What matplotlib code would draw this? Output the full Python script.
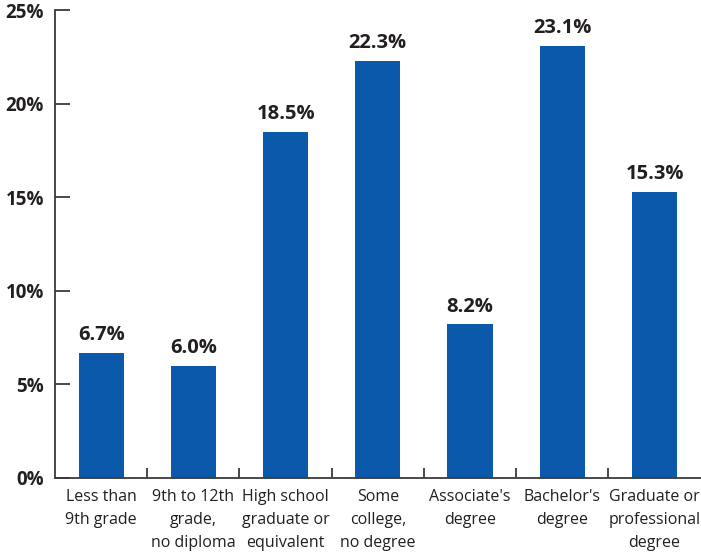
import numpy as np
import matplotlib.pyplot as plt

categories = [
    "Less than\n9th grade",
    "9th to 12th\ngrade,\nno diploma",
    "High school\ngraduate or\nequivalent",
    "Some\ncollege,\nno degree",
    "Associate's\ndegree",
    "Bachelor's\ndegree",
    "Graduate or\nprofessional\ndegree",
]
values = [6.7, 6.0, 18.5, 22.3, 8.2, 23.1, 15.3]
y_ticks = [0, 5, 10, 15, 20, 25]

bar_color = "#0a59ab"
text_color = "#231f20"
axis_color = "#3a3a3a"

plt.rcParams["font.family"] = ["Open Sans", "DejaVu Sans"]

fig = plt.figure(figsize=(7.01, 5.58), dpi=100)
ax = fig.add_axes([0.0785, 0.1434, 0.921, 0.8386])

x = np.arange(len(categories))
ax.bar(x, values, width=0.49, color=bar_color, zorder=2)

for xi, v in zip(x, values):
    ax.text(xi, v + 0.4, f"{v:.1f}%", ha="center", va="bottom",
            fontsize=14.5, fontweight="bold", color=text_color)

ax.set_xlim(-0.5, len(categories) - 0.5)
ax.set_ylim(0, 25)

ax.set_yticks(y_ticks)
ax.set_yticklabels([f"{t}%" for t in y_ticks], fontsize=13.5,
                   fontweight="bold", color=text_color)
ax.tick_params(axis="y", direction="in", length=11, width=1.3,
               color=axis_color, pad=8)

# category labels at the bar centres, ticks at the boundaries
ax.set_xticks(x)
ax.set_xticklabels(categories, fontsize=11.5, color=text_color,
                   linespacing=1.58)
ax.tick_params(axis="x", which="major", length=0, pad=8)
ax.set_xticks(np.arange(0.5, len(categories) - 0.5), minor=True)
ax.tick_params(axis="x", which="minor", direction="in", length=7,
               width=1.3, color=axis_color)

for side in ["top", "right"]:
    ax.spines[side].set_visible(False)
for side in ["left", "bottom"]:
    ax.spines[side].set_color(axis_color)
    ax.spines[side].set_linewidth(1.3)

fig.savefig("out.png", dpi=100)
